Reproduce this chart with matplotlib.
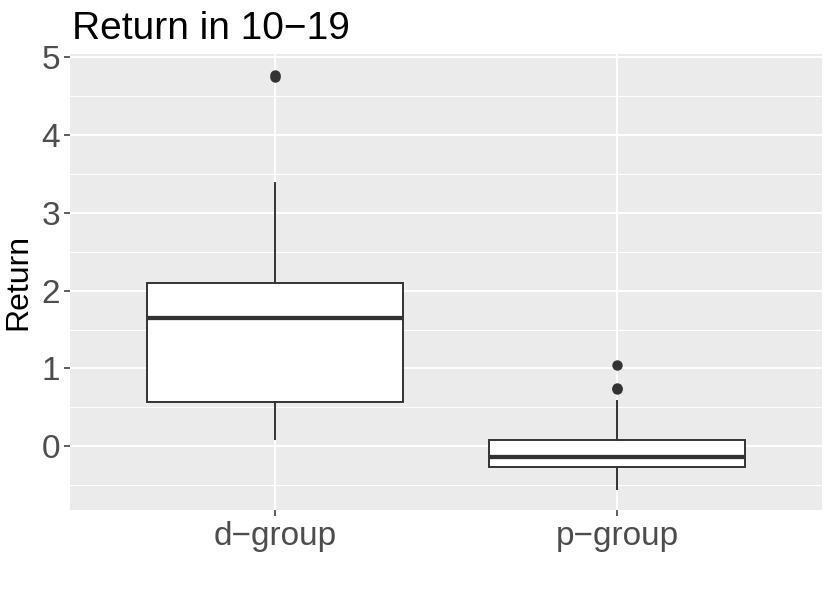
import matplotlib
matplotlib.use("Agg")
import matplotlib.pyplot as plt
from matplotlib.ticker import MultipleLocator

plt.rcParams['font.family'] = ['Liberation Sans', 'DejaVu Sans']

categories = ["d\u2212group", "p\u2212group"]
whisker_low = [0.09, -0.55]
q1 = [0.566, -0.27]
median = [1.645, -0.14]
q3 = [2.10, 0.077]
whisker_high = [3.38, 0.58]
outliers = [[4.74, 4.77], [0.74, 0.75, 1.05]]
title = "Return in 10\u221219"
ylabel = "Return"
yticks = [0, 1, 2, 3, 4, 5]

fig = plt.figure(figsize=(8.3, 5.93), dpi=100)
W, H = 830, 593
ax = fig.add_axes([70 / W, 1 - 510 / H, (822 - 70) / W, (510 - 54) / H])
ax.set_facecolor('#EBEBEB')
for s in ax.spines.values():
    s.set_visible(False)

stats = []
for i, c in enumerate(categories):
    stats.append(dict(label=c, whislo=whisker_low[i], q1=q1[i], med=median[i],
                      q3=q3[i], whishi=whisker_high[i], fliers=outliers[i]))

col = '#333333'
lw = 1.4
ax.bxp(stats, positions=[1, 2], widths=0.75, patch_artist=True, showcaps=False,
       boxprops=dict(facecolor='white', edgecolor=col, linewidth=lw),
       medianprops=dict(color=col, linewidth=lw * 2.2, solid_capstyle='butt'),
       whiskerprops=dict(color=col, linewidth=lw),
       flierprops=dict(marker='o', markerfacecolor=col, markeredgecolor=col,
                       markersize=6.5, linestyle='none'),
       zorder=3)

ax.set_xlim(0.4, 2.6)
allv = whisker_low + whisker_high + [v for o in outliers for v in o]
lo, hi = min(allv), max(allv)
pad = 0.05 * (hi - lo)
ax.set_ylim(lo - pad, hi + pad)
ax.set_yticks(yticks)
ax.yaxis.set_minor_locator(MultipleLocator(0.5))
ax.set_xticks([1, 2])
ax.set_xticklabels(categories)

ax.grid(which='major', color='white', linewidth=1.4, zorder=0)
ax.grid(which='minor', axis='y', color='white', linewidth=0.7, zorder=0)
ax.set_axisbelow(True)

ax.tick_params(axis='both', which='major', length=4, width=1.1, color='#333333',
               labelsize=24, labelcolor='#4D4D4D', pad=3)
ax.tick_params(axis='y', which='minor', length=0)
ax.tick_params(axis='x', pad=4)

ax.set_ylabel(ylabel, fontsize=23, color='black', labelpad=6)
fig.text(72 / W, 1 - 39 / H, title, fontsize=28, color='black', ha='left', va='baseline')

fig.savefig('out.png', dpi=100)
